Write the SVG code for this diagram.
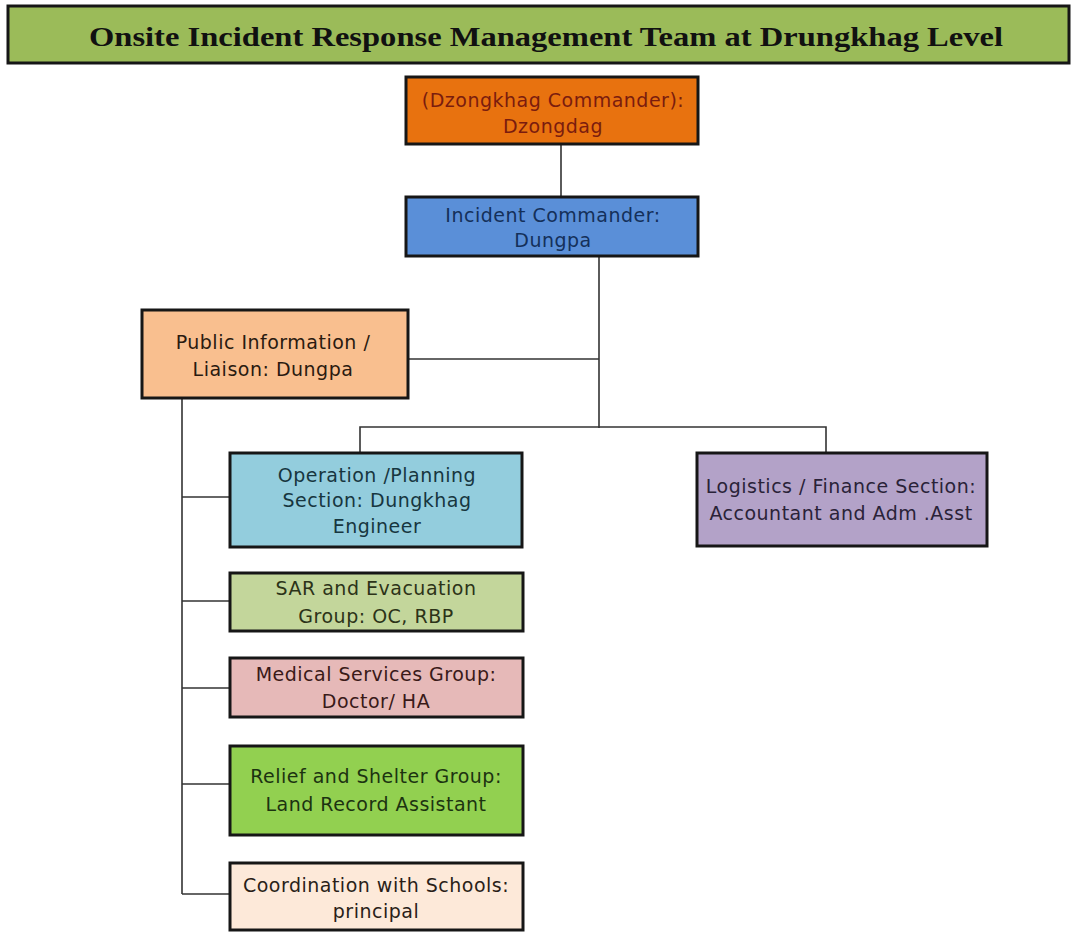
<svg xmlns="http://www.w3.org/2000/svg" width="1071" height="932" viewBox="0 0 1071 932">
  <style>
    .box { stroke: #161616; stroke-width: 3; }
    .lbl { font-family: "DejaVu Sans", "Verdana", sans-serif; font-size: 19px; letter-spacing: 0.5px; text-anchor: middle; }
    .wire { fill: none; stroke: #333333; stroke-width: 1.6; }
  </style>
  <rect width="1071" height="932" fill="#ffffff"/>

  <!-- title banner -->
  <g id="title">
    <rect x="8" y="6" width="1061" height="57" fill="#9bbb59" stroke="#161616" stroke-width="3"/>
    <text x="89" y="46" textLength="914" lengthAdjust="spacingAndGlyphs" font-family="'Liberation Serif', 'Times New Roman', serif" font-weight="bold" font-size="27" fill="#111111">Onsite Incident Response Management Team at Drungkhag Level</text>
  </g>

  <!-- connectors -->
  <g id="connectors">
    <path class="wire" d="M561 144 V197"/>
    <path class="wire" d="M599 256 V428"/>
    <path class="wire" d="M408 359 H599"/>
    <path class="wire" d="M360 453 V427 H826 V453"/>
    <path class="wire" d="M182 398 V894"/>
    <path class="wire" d="M182 497 H230"/>
    <path class="wire" d="M182 601 H230"/>
    <path class="wire" d="M182 688 H230"/>
    <path class="wire" d="M182 784 H230"/>
    <path class="wire" d="M182 894 H230"/>
  </g>

  <g id="dzongkhag-commander">
    <rect class="box" x="406" y="77" width="292" height="67" fill="#e8720f"/>
    <text class="lbl" x="553" y="107" fill="#7a1c0e">(Dzongkhag Commander):</text>
    <text class="lbl" x="553" y="133" fill="#7a1c0e">Dzongdag</text>
  </g>

  <g id="incident-commander">
    <rect class="box" x="406" y="197" width="292" height="59" fill="#5a8fd8"/>
    <text class="lbl" x="553" y="222" fill="#14305a">Incident Commander:</text>
    <text class="lbl" x="553" y="247" fill="#14305a">Dungpa</text>
  </g>

  <g id="public-information">
    <rect class="box" x="142" y="310" width="266" height="88" fill="#f9bf8f"/>
    <text class="lbl" x="273" y="349" fill="#2a1a10">Public Information /</text>
    <text class="lbl" x="273" y="376" fill="#2a1a10">Liaison: Dungpa</text>
  </g>

  <g id="operation-planning">
    <rect class="box" x="230" y="453" width="292" height="94" fill="#93cddd"/>
    <text class="lbl" x="377" y="482" fill="#17363f">Operation /Planning</text>
    <text class="lbl" x="377" y="507" fill="#17363f">Section: Dungkhag</text>
    <text class="lbl" x="377" y="533" fill="#17363f">Engineer</text>
  </g>

  <g id="logistics-finance">
    <rect class="box" x="697" y="453" width="290" height="93" fill="#b3a2c8"/>
    <text class="lbl" x="841" y="493" fill="#2a2238">Logistics / Finance Section:</text>
    <text class="lbl" x="841" y="520" fill="#2a2238">Accountant and Adm .Asst</text>
  </g>

  <g id="sar-evacuation">
    <rect class="box" x="230" y="573" width="293" height="58" fill="#c3d69b"/>
    <text class="lbl" x="376" y="595" fill="#2c3318">SAR and Evacuation</text>
    <text class="lbl" x="376" y="623" fill="#2c3318">Group: OC, RBP</text>
  </g>

  <g id="medical-services">
    <rect class="box" x="230" y="658" width="293" height="59" fill="#e6b9b8"/>
    <text class="lbl" x="376" y="681" fill="#3a1a18">Medical Services Group:</text>
    <text class="lbl" x="376" y="708" fill="#3a1a18">Doctor/ HA</text>
  </g>

  <g id="relief-shelter">
    <rect class="box" x="230" y="746" width="293" height="89" fill="#92d050"/>
    <text class="lbl" x="376" y="783" fill="#1c3310">Relief and Shelter Group:</text>
    <text class="lbl" x="376" y="811" fill="#1c3310">Land Record Assistant</text>
  </g>

  <g id="schools-coordination">
    <rect class="box" x="230" y="863" width="293" height="67" fill="#fde9d9"/>
    <text class="lbl" x="376" y="892" fill="#2a1e18">Coordination with Schools:</text>
    <text class="lbl" x="376" y="918" fill="#2a1e18">principal</text>
  </g>
</svg>
